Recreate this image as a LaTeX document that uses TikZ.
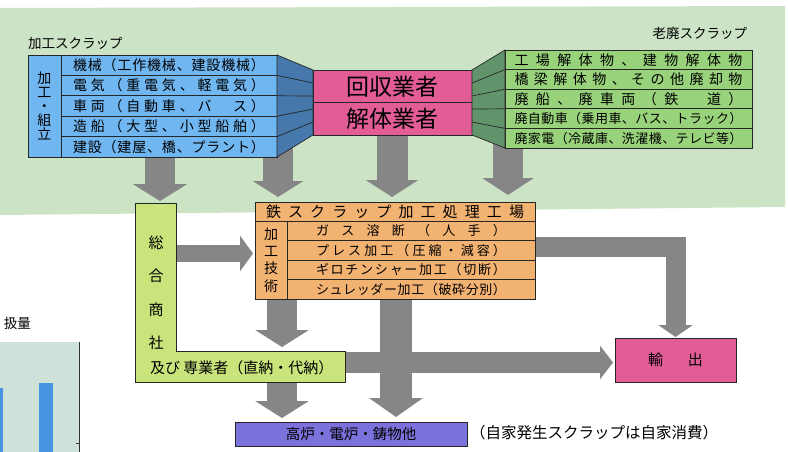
\documentclass[tikz,border=0pt]{standalone}
\usepackage{fontspec}
\setmainfont{Noto Sans CJK JP}
\usetikzlibrary{arrows.meta,calc}
\definecolor{bgGreen}{RGB}{204,227,198}
\definecolor{blueL}{RGB}{112,182,240}
\definecolor{blueDark}{RGB}{70,120,172}
\definecolor{pinkC}{RGB}{226,92,150}
\definecolor{greenR}{RGB}{152,210,122}
\definecolor{greenDark}{RGB}{98,148,108}
\definecolor{orangeC}{RGB}{242,178,114}
\definecolor{limeC}{RGB}{200,228,122}
\definecolor{purpleC}{RGB}{124,114,220}
\definecolor{arrowG}{RGB}{134,134,134}
\definecolor{chartBg}{RGB}{206,226,218}
\definecolor{barBlue}{RGB}{72,150,226}
\ExplSyntaxOn
\NewDocumentCommand\spreadtext{mm}{\makebox[#1][s]{\tl_map_inline:nn{#2}{##1\hfil}\unskip}}
\ExplSyntaxOff
\pgfdeclarelayer{back}
\pgfdeclarelayer{arrowlayer}
\pgfsetlayers{back,arrowlayer,main}
\tikzset{
  box/.style={draw=black!85, line width=0.9pt, inner sep=0pt, outer sep=0pt},
  ltrow/.style={box, fill=blueL, minimum width=216pt, minimum height=20.4pt, font=\fontsize{14}{14}\selectfont},
  rtrow/.style={box, fill=greenR, minimum width=247pt, minimum height=19.6pt, font=\fontsize{14}{14}\selectfont},
  orrow/.style={box, fill=orangeC, minimum width=248pt, minimum height=19.5pt, font=\fontsize{13}{13}\selectfont},
  pinkbox/.style={box, fill=pinkC, minimum width=159pt, minimum height=32.5pt, font=\fontsize{23}{23}\selectfont},
  plain/.style={inner sep=0pt, outer sep=0pt},
  bigarrow/.style={draw=arrowG, line width=#1},
  thinline/.style={draw=black!85, line width=0.7pt},
}
\begin{document}
\begin{tikzpicture}[x=1pt,y=-1pt]
\useasboundingbox (0,0) rectangle (788,452);
\begin{pgfonlayer}{back}
\fill[bgGreen] (0,8) -- (785,6) -- (785,207) -- (0,215) -- cycle;
\fill[chartBg] (0,342) rectangle (79,452);
\fill[barBlue] (0,388) rectangle (3,452);
\fill[barBlue] (39,383) rectangle (53,452);
\draw[black!80, line width=0.8pt] (79,342) -- (79,452) (76,443) -- (79,443);
\end{pgfonlayer}
\node[plain, anchor=east, font=\fontsize{13.5}{13.5}\selectfont] (atsukai) at (31,323) {扱量};

% x positions of the arrows
\coordinate (xA) at (160,0);
\coordinate (xB) at (278,0);
\coordinate (xC) at (392,0);
\coordinate (xD) at (508,0);
\coordinate (xE) at (282,0);
\coordinate (xF) at (396,0);
\coordinate (yG) at (0,253.5);
\coordinate (yH) at (0,362.5);
\coordinate (yI) at (0,247);

% labels
\node[plain, anchor=west, font=\fontsize{13.5}{13.5}\selectfont] (kakoscrap) at (28,43) {加工スクラップ};
\node[plain, anchor=east, font=\fontsize{13.5}{13.5}\selectfont] (rohai) at (747,33) {老廃スクラップ};

% pink
\node[pinkbox] (kaishu) at (392.5,86.25) {回収業者};
\node[pinkbox] (kaitai) at (392.5,118.75) {解体業者};

% left table
\node[box, fill=blueL, minimum width=33pt, minimum height=102pt, align=center, font=\fontsize{14}{14}\selectfont] (kakoL) at (44.5,106) {加\\工\\・\\組\\立};
\node[ltrow] (L1) at (169,65.2) {\spreadtext{192pt}{機械（工作機械、建設機械）}};
\node[ltrow] (L2) at (169,85.6) {\spreadtext{192pt}{電気（重電気、軽電気）}};
\node[ltrow] (L3) at (169,106) {\spreadtext{192pt}{車両（自動車、バ　ス）}};
\node[ltrow] (L4) at (169,126.4) {\spreadtext{192pt}{造船（大型、小型船舶）}};
\node[ltrow] (L5) at (169,146.8) {\spreadtext{192pt}{建設（建屋、橋、プラント）}};
\filldraw[fill=blueDark, thinline] (L1.north east) -- (kaishu.north west) -- (kaitai.south west) -- (L5.south east) -- cycle;
\foreach \r/\f in {L1/0.2, L2/0.4, L3/0.6, L4/0.8}
  \draw[thinline] (\r.south east) -- ($(kaishu.north west)!\f!(kaitai.south west)$);

% right table
\node[rtrow] (R1) at (628.5,59.8) {\spreadtext{228pt}{工場解体物、建物解体物}};
\node[rtrow] (R2) at (628.5,79.4) {\spreadtext{228pt}{橋梁解体物、その他廃却物}};
\node[rtrow] (R3) at (628.5,99) {\spreadtext{228pt}{廃船、廃車両（鉄　道）}};
\node[rtrow, font=\fontsize{13}{13}\selectfont] (R4) at (628.5,118.6) {\spreadtext{228pt}{廃自動車（乗用車、バス、トラック）}};
\node[rtrow, font=\fontsize{13}{13}\selectfont] (R5) at (628.5,138.2) {\spreadtext{228pt}{廃家電（冷蔵庫、洗濯機、テレビ等）}};
\filldraw[fill=greenDark, thinline] (kaishu.north east) -- (R1.north west) -- (R5.south west) -- (kaitai.south east) -- cycle;
\foreach \r/\f in {R1/0.2, R2/0.4, R3/0.6, R4/0.8}
  \draw[thinline] (\r.south west) -- ($(kaishu.north east)!\f!(kaitai.south east)$);

% orange
\node[box, fill=orangeC, minimum width=280pt, minimum height=19pt, font=\fontsize{15}{15}\selectfont] (otitle) at (395,211.5) {\spreadtext{258pt}{鉄スクラップ加工処理工場}};
\node[box, fill=orangeC, minimum width=32pt, minimum height=78pt, align=center, font=\fontsize{14}{17.3}\selectfont] (ogijutsu) at (271,260) {加\\工\\技\\術};
\node[orrow] (O1) at (411,230.75) {\spreadtext{190pt}{ガス溶断（人手）}};
\node[orrow] (O2) at (411,250.25) {\spreadtext{190pt}{プレス加工（圧縮・減容）}};
\node[orrow] (O3) at (411,269.75) {\spreadtext{190pt}{ギロチンシャー加工（切断）}};
\node[orrow] (O4) at (411,289.25) {\spreadtext{190pt}{シュレッダー加工（破砕分別）}};

% green L
\node[plain, minimum width=41pt, minimum height=148pt] (sogoV) at (155.5,277) {};
\node[plain, minimum width=210pt, minimum height=31pt] (senH) at (240,366.5) {};
\filldraw[fill=limeC, box] (sogoV.north west) -- (sogoV.north east) -- (sogoV.east |- senH.north) -- (senH.north east) -- (senH.south east) -- (senH.south west) -- cycle;
\node[plain, align=center, font=\fontsize{15}{33.5}\selectfont] (sogoT) at (156,293) {総\\合\\商\\社};
\node[plain, anchor=west, font=\fontsize{15}{15}\selectfont] (senT) at (150,368) {及び 専業者（直納・代納）};

% bottom
\node[box, fill=pinkC, minimum width=121pt, minimum height=44pt, font=\fontsize{15}{15}\selectfont] (yushutsu) at (675.5,360) {\spreadtext{55pt}{輸出}};
\node[box, fill=purpleC, minimum width=232pt, minimum height=24pt, font=\fontsize{14.5}{14.5}\selectfont] (koro) at (351,434) {高炉・電炉・鋳物他};
\node[plain, anchor=west, font=\fontsize{15.5}{15.5}\selectfont] (jika) at (470,433) {（自家発生スクラップは自家消費）};

% arrows
\begin{pgfonlayer}{arrowlayer}
\draw[bigarrow=30pt, -{Triangle[width=54pt,length=17pt]}, shorten >=2pt] (L5.south -| xA) -- (sogoV.north -| xA);
\draw[bigarrow=30pt, -{Triangle[width=50pt,length=16pt]}, shorten >=5pt] ($(L5.south -| xB)+(0,-12)$) -- (otitle.north -| xB);
\draw[bigarrow=31pt, -{Triangle[width=52pt,length=17pt]}, shorten >=5pt] (kaitai.south -| xC) -- (otitle.north -| xC);
\draw[bigarrow=30pt, -{Triangle[width=51pt,length=17pt]}, shorten >=7pt] ($(R5.south -| xD)+(0,-8)$) -- (otitle.north -| xD);
\draw[bigarrow=30pt, -{Triangle[width=53pt,length=17pt]}, shorten >=4pt] (O4.south -| xE) -- (senH.north -| xE);
\draw[bigarrow=30pt, -{Triangle[width=53pt,length=17pt]}, shorten >=4pt] (senH.south -| xE) -- (koro.north -| xE);
\draw[bigarrow=32pt, -{Triangle[width=53pt,length=19pt]}, shorten >=5pt] (O4.south -| xF) -- (koro.north -| xF);
\draw[bigarrow=17pt, -{Triangle[width=35pt,length=13pt]}, shorten >=2pt] (sogoV.east |- yG) -- (ogijutsu.west |- yG);
\draw[bigarrow=21pt, -{Triangle[width=33pt,length=13pt]}, shorten >=2pt] (senH.east |- yH) -- (yushutsu.west |- yH);
\draw[bigarrow=20pt, -{Triangle[width=34pt,length=12pt]}, line join=miter, shorten >=1pt] (O2.east |- yI) -| (yushutsu.north);
\end{pgfonlayer}
\end{tikzpicture}
\end{document}
